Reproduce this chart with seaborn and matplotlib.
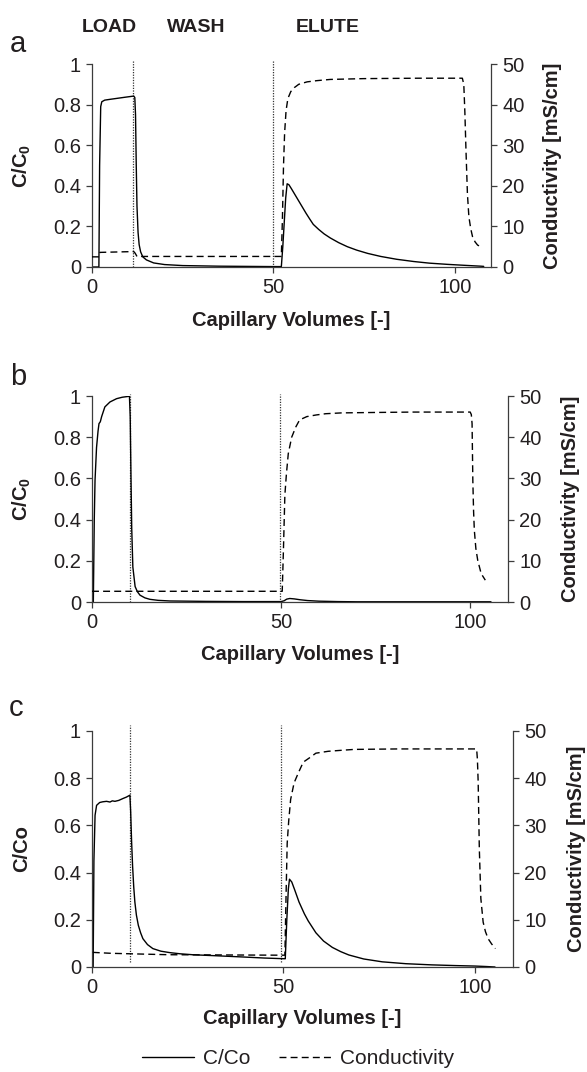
import numpy as np
import pandas as pd
import matplotlib
matplotlib.use("Agg")
import matplotlib.pyplot as plt
from matplotlib.ticker import FormatStrFormatter
import seaborn as sns

# ---- data ---------------------------------------------------------------
# panel a : C/C0 vs capillary volumes
a_cc_x = [0, 1.9, 2.1, 2.4, 2.7, 3.5, 5, 7, 9, 11.5, 11.8, 12.0, 12.2, 12.4, 12.7,
          13.0, 13.4, 14, 15, 17, 20, 25, 35, 50, 52.2, 52.6, 53.0, 53.4, 53.8,
          54.3, 55, 56, 57, 58, 59, 60, 61, 62.5, 64, 65.7, 68, 70.4, 73, 76,
          79.6, 84, 88.7, 93, 98, 103, 107.2, 108]
a_cc_y = [0, 0, 0.5, 0.79, 0.814, 0.822, 0.826, 0.831, 0.836, 0.842, 0.835, 0.75,
          0.5, 0.3, 0.17, 0.11, 0.075, 0.05, 0.035, 0.02, 0.012, 0.007, 0.004,
          0.002, 0.002, 0.1, 0.22, 0.34, 0.41, 0.405, 0.385, 0.355, 0.325, 0.295,
          0.265, 0.237, 0.21, 0.185, 0.163, 0.143, 0.12, 0.1, 0.083, 0.067,
          0.052, 0.038, 0.027, 0.019, 0.013, 0.008, 0.004, 0.003]
# panel a : conductivity [mS/cm]
a_k_x = [0, 2.0, 2.2, 11.5, 11.9, 12.4, 52.2, 52.5, 52.8, 53.1, 53.5, 54.0, 54.8,
         55.8, 57, 59.3, 62, 65.7, 75, 90, 102.1, 102.5, 102.8, 103.1, 103.5,
         103.9, 104.4, 104.9, 105.6, 106.3, 107.6]
a_k_y = [2.5, 2.5, 3.6, 3.8, 3.4, 2.6, 2.6, 12, 25, 33, 38.5, 41.5, 43.2, 44.2,
         45.0, 45.6, 45.9, 46.2, 46.4, 46.5, 46.5, 45, 38, 28.8, 18, 12.4, 9.5,
         7.5, 6.2, 5.4, 4.8]

# panel b
b_cc_x = [0, 0.35, 0.6, 0.8, 1.2, 1.6, 1.85, 2.2, 2.55, 3.4, 4.75, 6.5, 8, 9.6,
          9.9, 10.1, 10.3, 10.5, 10.8, 11.4, 12, 12.7, 14, 15.3, 17.5, 20.6, 30,
          40, 50, 50.8, 51.5, 52.3, 53.5, 55, 57, 60, 65, 70, 80, 90, 100, 105.5]
b_cc_y = [0, 0, 0.4, 0.59, 0.75, 0.83, 0.866, 0.875, 0.90, 0.947, 0.971, 0.987,
          0.994, 0.998, 0.999, 0.9, 0.62, 0.36, 0.17, 0.075, 0.05, 0.033, 0.02,
          0.013, 0.008, 0.005, 0.003, 0.002, 0.002, 0.006, 0.014, 0.017, 0.015,
          0.011, 0.007, 0.004, 0.002, 0.001, 0.001, 0.001, 0.001, 0.001]
b_k_x = [0, 50.3, 50.6, 51.0, 51.4, 51.9, 52.8, 53.9, 54.9, 56.8, 59.3, 61.8, 66,
         74.6, 85, 100.0, 100.3, 100.5, 100.7, 100.9, 101.1, 101.5, 102, 102.9,
         104.0]
b_k_y = [2.6, 2.6, 12, 26, 31, 36, 40, 42.5, 44.2, 45.0, 45.4, 45.7, 45.9, 46.0,
         46.1, 46.1, 45.5, 43.3, 29.5, 22, 17.4, 13, 10.1, 6.9, 5.3]

# panel c
c_cc_x = [0, 0.3, 0.5, 0.8, 1.2, 2.0, 2.8, 3.8, 4.7, 5.3, 6.0, 7, 8.1, 9.0, 9.9,
          10.1, 10.35, 10.6, 10.9, 11.2, 11.6, 12.1, 12.7, 13.3, 14.5, 15.9, 18,
          20.3, 23, 26.3, 33.3, 40, 45, 50.3, 50.5, 50.9, 51.3, 51.6, 52.2, 53,
          54.1, 55.5, 56.5, 58.5, 60.5, 62.8, 65, 67.1, 71, 75.8, 82, 88.8, 95,
          100.1, 103, 105.3]
c_cc_y = [0, 0, 0.45, 0.643, 0.685, 0.697, 0.700, 0.702, 0.699, 0.704, 0.702,
          0.706, 0.714, 0.72, 0.728, 0.66, 0.53, 0.43, 0.34, 0.275, 0.22, 0.177,
          0.145, 0.12, 0.095, 0.078, 0.067, 0.061, 0.056, 0.052, 0.047, 0.042,
          0.038, 0.035, 0.035, 0.2, 0.33, 0.372, 0.36, 0.325, 0.275, 0.225,
          0.195, 0.145, 0.11, 0.083, 0.065, 0.051, 0.034, 0.022, 0.014, 0.009,
          0.006, 0.004, 0.002, 0.0]
c_k_x = [0.2, 5, 10, 20, 35, 50.4, 50.7, 51.0, 51.4, 51.9, 52.8, 53.9, 55.2, 56.8,
         58.5, 61.7, 65, 68.5, 80, 100.5, 100.7, 100.9, 101.2, 101.6, 102.2,
         102.8, 103.5, 104.4, 105.4]
c_k_y = [3.1, 2.9, 2.8, 2.6, 2.55, 2.5, 15, 26.2, 31, 35.5, 39, 41.1, 43.4, 44.3,
         45.3, 45.7, 45.9, 46.1, 46.2, 46.2, 44, 39.2, 25.1, 14.5, 9.5, 7.5, 6.0,
         4.9, 3.9]

# phase boundaries (dotted lines) per panel
a_bounds = [11.3, 50.0]
b_bounds = [10.1, 49.8]
c_bounds = [10.0, 49.5]

phase_labels = ["LOAD", "WASH", "ELUTE"]
panel_letters = ["a", "b", "c"]
left_labels = [r"C/C$_\mathbf{0}$", r"C/C$_\mathbf{0}$", "C/Co"]
right_label = "Conductivity [mS/cm]"
x_label = "Capillary Volumes [-]"
legend_labels = ["C/Co", "Conductivity"]

# ---- style ---------------------------------------------------------------
sns.set_theme(style="ticks")
plt.rcParams["font.family"] = ["Liberation Sans", "DejaVu Sans"]
plt.rcParams["mathtext.fontset"] = "custom"
plt.rcParams["mathtext.rm"] = "Liberation Sans"
plt.rcParams["mathtext.bf"] = "Liberation Sans:bold"
plt.rcParams["mathtext.it"] = "Liberation Sans:italic"

TXT = "#231f20"
AX = "#3c3c3c"
W, H = 587, 1072

fig = plt.figure(figsize=(W / 100, H / 100), dpi=100)


def px_rect(l, t, r, b):
    return [l / W, 1 - b / H, (r - l) / W, (b - t) / H]


# (left, top, right, bottom) of each plot area in pixels
rects = [(92, 64, 491, 267), (92, 396, 508, 602), (92, 731, 513, 967)]
ylab_x = [22, 22, 22]          # centre of left label (px)
rlab_x = [553, 570, 577]       # centre of right label (px)
xlab_y = [320, 655, 1019]      # centre of x label (px)
vline_span = [(0, 1.015), (0, 1.01), (0.02, 1.025)]
letter_pos = [(18, 52), (18, 385), (16, 716)]

panels = [
    (a_cc_x, a_cc_y, a_k_x, a_k_y, a_bounds),
    (b_cc_x, b_cc_y, b_k_x, b_k_y, b_bounds),
    (c_cc_x, c_cc_y, c_k_x, c_k_y, c_bounds),
]

lw = 1.0
for i, (cx, cy, kx, ky, bounds) in enumerate(panels):
    l, t, r, b = rects[i]
    wpx, hpx = r - l, b - t
    ax = fig.add_axes(px_rect(l, t, r, b))
    ax.set_facecolor("none")

    for xb in bounds:
        ax.plot([xb, xb], list(vline_span[i]), color="#333333", lw=0.9,
                linestyle=(0, (1, 1.1)), clip_on=False, zorder=2)

    df_c = pd.DataFrame({"cv": cx, "c": cy})
    sns.lineplot(data=df_c, x="cv", y="c", ax=ax, color="black", lw=lw,
                 estimator=None, sort=False, label=legend_labels[0], legend=False)
    ax.set_xlim(0, 110)
    ax.set_ylim(0, 1)
    ax.set_xticks([0, 50, 100])
    ax.set_yticks([0, 0.2, 0.4, 0.6, 0.8, 1.0])
    ax.yaxis.set_major_formatter(FormatStrFormatter("%g"))

    ax2 = ax.twinx()
    df_k = pd.DataFrame({"cv": kx, "k": ky})
    sns.lineplot(data=df_k, x="cv", y="k", ax=ax2, color="black", lw=lw,
                 estimator=None, sort=False, label=legend_labels[1], legend=False)
    ax2.lines[-1].set_dashes((5, 3))
    ax2.set_ylim(0, 50)
    ax2.set_yticks([0, 10, 20, 30, 40, 50])
    ax2.set_xlim(0, 110)

    for s in ["top", "right"]:
        ax.spines[s].set_visible(False)
    for s in ["top", "left", "bottom"]:
        ax2.spines[s].set_visible(False)
    for a_ in (ax, ax2):
        for s in a_.spines.values():
            s.set_color(AX)
            s.set_linewidth(0.9)
        a_.tick_params(direction="out", length=4, width=0.9, color=AX,
                       labelsize=14.5, labelcolor=TXT, pad=4)

    ax.set_xlabel(x_label, fontsize=14.5, fontweight="bold", color=TXT)
    ax.xaxis.set_label_coords(0.5, -(xlab_y[i] - b) / hpx)
    ax.xaxis.label.set_va("center")

    ax.set_ylabel(left_labels[i], fontsize=14.5, fontweight="bold", color=TXT)
    ax.yaxis.set_label_coords((ylab_x[i] - l) / wpx, 0.5)
    ax.yaxis.label.set_rotation_mode("anchor")
    ax.yaxis.label.set_va("center")
    ax.yaxis.label.set_ha("center")

    ax2.set_ylabel(right_label, fontsize=14.5, fontweight="bold", color=TXT,
                   rotation=90)
    ax2.yaxis.set_label_coords((rlab_x[i] - l) / wpx, 0.5)
    ax2.yaxis.label.set_rotation_mode("anchor")
    ax2.yaxis.label.set_va("center")
    ax2.yaxis.label.set_ha("center")

    lx, ly = letter_pos[i]
    fig.text(lx / W, 1 - ly / H, panel_letters[i], fontsize=21, color=TXT,
             ha="center", va="baseline")

    if i == 2:
        handles = [ax.lines[-1], ax2.lines[-1]]

# phase names above panel a
for name, xc in zip(phase_labels, [109, 196, 328]):
    fig.text(xc / W, 1 - 32 / H, name, fontsize=14, fontweight="bold",
             color=TXT, ha="center", va="baseline")

fig.legend(handles, legend_labels, loc="center",
           bbox_to_anchor=(298 / W, 1 - 1059 / H), ncol=2, frameon=False,
           fontsize=15, handlelength=2.5, handletextpad=0.4, columnspacing=1.4,
           labelcolor=TXT, borderpad=0.2)

fig.savefig("out.png", dpi=100)
